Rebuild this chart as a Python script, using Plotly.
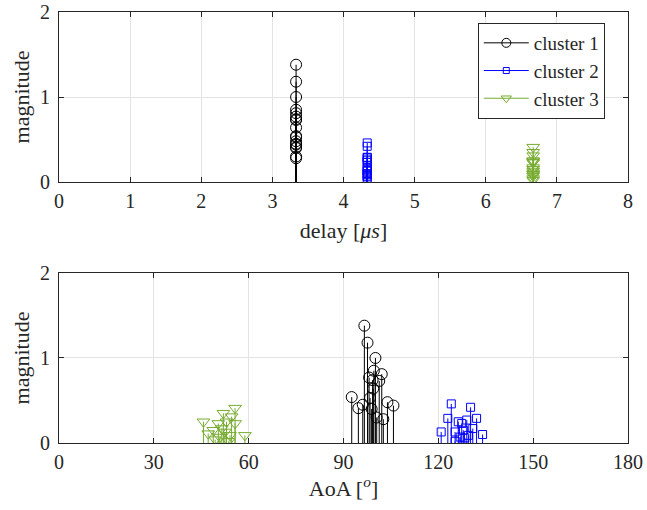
import plotly.graph_objects as go
from plotly.subplots import make_subplots

# Per-cluster ray parameters: delay [us], angle of arrival [deg], magnitude
c1_delay = 10 / 3
c1_aoa = [96.6, 97.6, 100.1, 99.6, 102.1, 98.1, 99.2, 101.3, 99.4, 98.4,
          92.6, 94.7, 96.1, 98.9, 103.9, 105.8, 100.5, 102.6]
c1_mag = [1.38, 1.18, 1.00, 0.85, 0.81, 0.77, 0.74, 0.73, 0.64, 0.53,
          0.54, 0.41, 0.45, 0.40, 0.48, 0.44, 0.30, 0.28]

c2_delay = 13 / 3
c2_aoa = [124.1, 130.2, 123.0, 132.1, 120.9, 134.0, 126.3, 127.4, 129.0, 130.9,
          125.3, 127.9, 126.9, 125.3, 128.4, 129.5]
c2_mag = [0.46, 0.42, 0.29, 0.29, 0.13, 0.10, 0.25, 0.23, 0.27, 0.17,
          0.13, 0.15, 0.07, 0.02, 0.06, 0.09]

c3_delay = 20 / 3
c3_aoa = [55.7, 45.7, 52.0, 54.6, 58.8, 50.4, 53.0, 55.7, 47.2, 51.5,
          52.5, 54.1, 49.4, 53.6, 50.9, 48.8]
c3_mag = [0.41, 0.25, 0.35, 0.31, 0.09, 0.23, 0.25, 0.23, 0.11, 0.17,
          0.13, 0.09, 0.04, 0.02, 0.07, 0.15]

names = ["cluster 1", "cluster 2", "cluster 3"]
delay_ticks = [0, 1, 2, 3, 4, 5, 6, 7, 8]
aoa_ticks = [0, 30, 60, 90, 120, 150, 180]
mag_ticks = [0, 1, 2]

clusters = [
    (c1_delay, c1_aoa, c1_mag, "black", "circle-open", 11),
    (c2_delay, c2_aoa, c2_mag, "rgb(0,0,255)", "square-open", 8),
    (c3_delay, c3_aoa, c3_mag, "rgb(119,172,48)", "triangle-down-open", 11),
]

FONT = "Liberation Serif"
AX = "#262626"

fig = make_subplots(rows=2, cols=1, vertical_spacing=0.211)


def stem_xy(xs, ys):
    sx, sy = [], []
    for x, y in zip(xs, ys):
        sx += [x, x, None]
        sy += [0, y, None]
    return sx, sy


for i, (d, aoa, mag, col, sym, ms) in enumerate(clusters):
    delays = [d] * len(mag)
    for row, xs in ((1, delays), (2, aoa)):
        sx, sy = stem_xy(xs, mag)
        fig.add_trace(go.Scatter(x=sx, y=sy, mode="lines",
                                 line=dict(color=col, width=1),
                                 showlegend=False, hoverinfo="skip"),
                      row=row, col=1)
        fig.add_trace(go.Scatter(x=xs, y=mag, mode="markers",
                                 marker=dict(symbol=sym, size=ms, color=col,
                                             line=dict(width=1, color=col)),
                                 showlegend=False),
                      row=row, col=1)
    # legend entry: line + marker
    fig.add_trace(go.Scatter(x=[None], y=[None], mode="lines+markers", name=names[i],
                             line=dict(color=col, width=1),
                             marker=dict(symbol=sym, size=ms - 2, color=col,
                                         line=dict(width=1, color=col))),
                  row=1, col=1)

axis_common = dict(showline=True, linecolor=AX, linewidth=1, mirror="ticks",
                   ticks="inside", ticklen=5, tickcolor=AX,
                   showgrid=True, gridcolor="#e3e3e3", gridwidth=1,
                   zeroline=False, automargin=False,
                   tickfont=dict(family=FONT, size=20, color=AX))

fig.update_xaxes(**axis_common, ticklabelstandoff=1)
fig.update_yaxes(**axis_common, ticklabelstandoff=4)

fig.update_xaxes(range=[0, 8], tickvals=delay_ticks,
                 title=dict(text="delay [<i>μs</i>]", font=dict(family=FONT, size=22, color=AX),
                            standoff=11),
                 row=1, col=1)
fig.update_xaxes(range=[0, 180], tickvals=aoa_ticks,
                 title=dict(text="AoA [<sup><i>o</i></sup>]", font=dict(family=FONT, size=22, color=AX),
                            standoff=7),
                 row=2, col=1)
for r in (1, 2):
    fig.update_yaxes(range=[0, 2], tickvals=mag_ticks,
                     title=dict(text="magnitude", font=dict(family=FONT, size=22, color=AX),
                                standoff=4),
                     row=r, col=1)

fig.update_layout(
    width=647, height=510,
    margin=dict(l=59, r=19, t=12, b=67),
    paper_bgcolor="white", plot_bgcolor="white",
    font=dict(family=FONT, color=AX),
    legend=dict(x=0.736, y=0.9745, xanchor="left", yanchor="top",
                bgcolor="white", bordercolor=AX, borderwidth=1,
                font=dict(family=FONT, size=19, color=AX),
                itemwidth=45, tracegroupgap=0),
)

fig.write_html("out.html")
